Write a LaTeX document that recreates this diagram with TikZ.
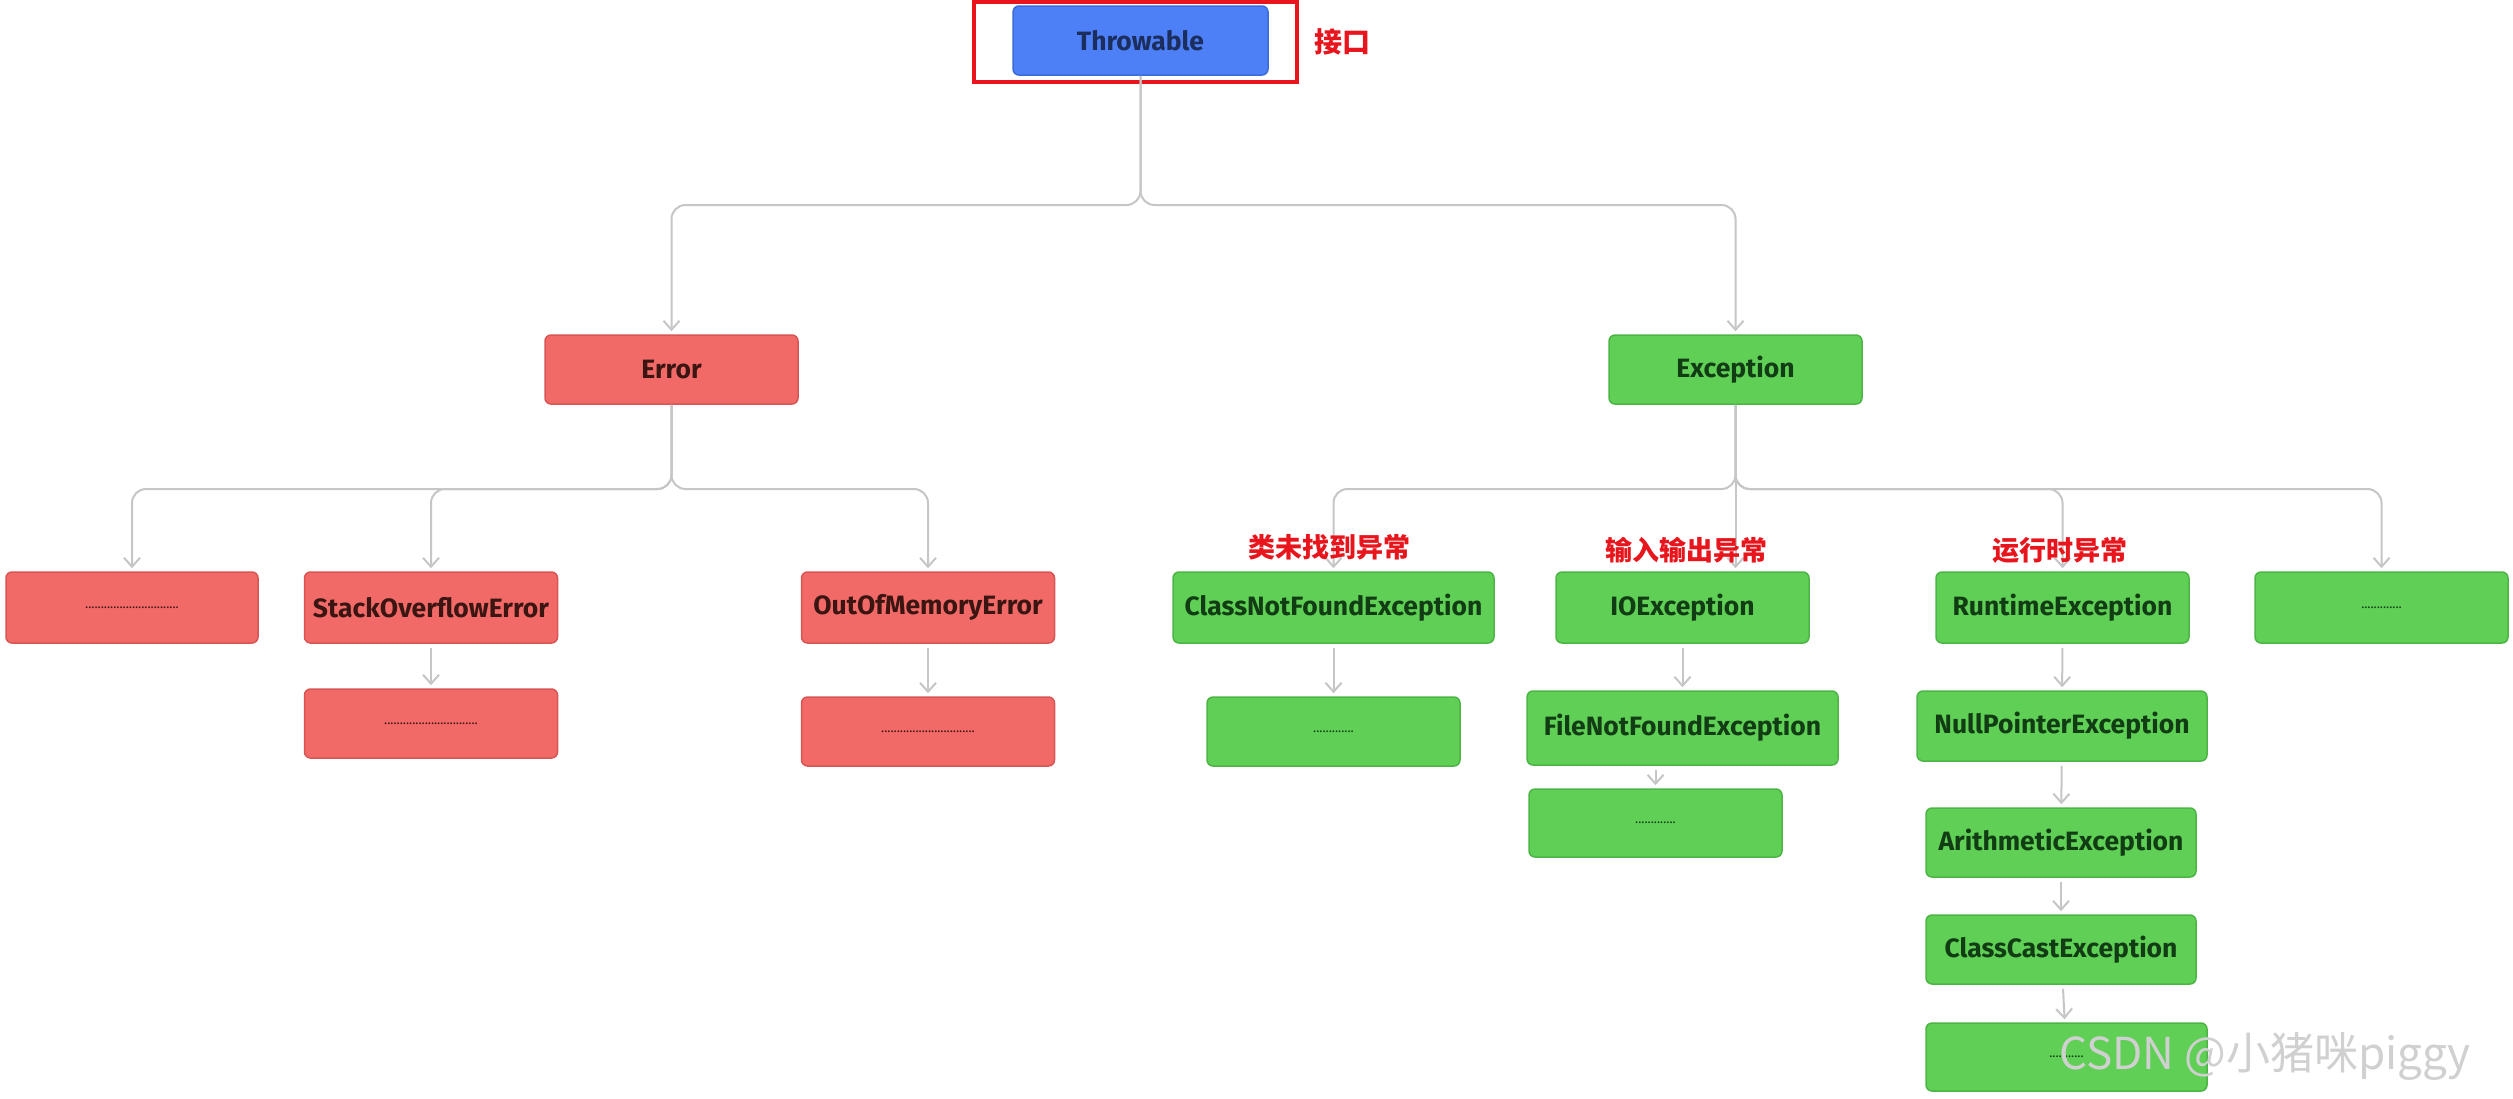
\documentclass[tikz,border=0pt]{standalone}
\usepackage{fontspec}
\setmainfont{Fira Sans}
\newfontfamily\cjk{Noto Sans CJK SC}
\usetikzlibrary{arrows.meta}
\definecolor{bluefill}{RGB}{77,128,246}
\definecolor{bluedraw}{RGB}{58,107,216}
\definecolor{bluetext}{RGB}{28,46,94}
\definecolor{redfill}{RGB}{242,106,103}
\definecolor{reddraw}{RGB}{217,85,83}
\definecolor{redtext}{RGB}{58,21,18}
\definecolor{greenfill}{RGB}{95,207,86}
\definecolor{greendraw}{RGB}{77,181,69}
\definecolor{greentext}{RGB}{18,61,20}
\definecolor{linegray}{RGB}{198,198,198}
\definecolor{labelred}{RGB}{232,21,29}
\definecolor{wmgray}{RGB}{208,208,208}
\tikzset{
  box/.style={draw, rounded corners=6pt, line width=1.5pt, minimum width=253pt, minimum height=69pt,
    inner sep=0pt, font=\fontsize{26.5}{30}\selectfont\bfseries},
  bluebox/.style={box, fill=bluefill, draw=bluedraw, text=bluetext},
  errbox/.style={box, fill=redfill, draw=reddraw, text=redtext},
  excbox/.style={box, fill=greenfill, draw=greendraw, text=greentext},
  conn/.style={draw=linegray, line width=2pt, rounded corners=14pt, shorten >=3pt,
    -{Straight Barb[length=9pt,width=16pt,line width=2pt]}},
  lbl/.style={font=\cjk\bfseries\fontsize{27}{30}\selectfont, text=labelred}
}
\newcommand{\dotfont}{\fontsize{13}{15}\selectfont\mdseries}
\begin{document}
\begin{tikzpicture}[x=1pt,y=-1pt]
\useasboundingbox[fill=white] (0,0) rectangle (2513,1098);
% nodes
\node[bluebox, minimum width=255pt] (throw) at (1140.5,40.5) {Throwable};
\node[draw=labelred, line width=4pt, minimum width=323pt, minimum height=80pt, inner sep=0pt] (hl) at (1135.5,42) {};
\node[lbl, font=\cjk\bfseries\fontsize{28}{30}\selectfont] (jk) at (1342,42) {接口};

\node[errbox] (err) at (671.5,369.5) {Error};
\node[excbox] (exc) at (1735.5,369.5) {Exception};

\node[errbox, minimum width=252pt, minimum height=71pt] (e1) at (132,607.5) {\dotfont ..............................};
\node[errbox, minimum height=71pt] (so) at (431,607.5) {StackOverflowError};
\node[errbox, minimum height=71pt] (oom) at (928,607.5) {OutOfMemoryError};
\node[excbox, minimum width=321pt, minimum height=71pt] (cnf) at (1333.5,607.5) {ClassNotFoundException};
\node[excbox, minimum height=71pt] (io) at (1682.5,607.5) {IOException};
\node[excbox, minimum height=71pt] (rt) at (2062.5,607.5) {RuntimeException};
\node[excbox, minimum height=71pt] (e2) at (2381.5,607.5) {\dotfont .............};

\node[errbox] (soc) at (431,723.5) {\dotfont ..............................};
\node[errbox] (oomc) at (928,731.5) {\dotfont ..............................};
\node[excbox] (cnfc) at (1333.5,731.5) {\dotfont .............};
\node[excbox, minimum width=311pt, minimum height=74pt] (fnf) at (1682.5,728) {FileNotFoundException};
\node[excbox, minimum width=290pt, minimum height=70pt] (np) at (2062,726) {NullPointerException};
\node[excbox, minimum height=68pt] (fnfc) at (1655.5,823) {\dotfont .............};
\node[excbox, minimum width=270pt] (ar) at (2061,842.5) {ArithmeticException};
\node[excbox, minimum width=270pt] (cc) at (2061,949.5) {ClassCastException};
\node[excbox, minimum width=281pt, minimum height=68pt] (last) at (2066.5,1057) {\dotfont ...........};

% connectors
\draw[conn] (throw.south) -- (1140.5,205) -| (err.north);
\draw[conn] (throw.south) -- (1140.5,205) -| (exc.north);

\draw[conn] (err.south) -- (671.5,489) -| (e1.north);
\draw[conn] (err.south) -- (671.5,489) -| (so.north);
\draw[conn] (err.south) -- (671.5,489) -| (oom.north);

\draw[conn] (exc.south) -- (1735.5,489) -| (cnf.north);
\draw[conn] (exc.south) -- (exc.south |- io.north);
\draw[conn] (exc.south) -- (1735.5,489) -| (rt.north);
\draw[conn] (exc.south) -- (1735.5,489) -| (e2.north);

\draw[conn, shorten <=4pt] (so) -- (soc);
\draw[conn, shorten <=4pt] (oom) -- (oomc);
\draw[conn, shorten <=4pt] (cnf) -- (cnfc);
\draw[conn, shorten <=4pt] (io) -- (fnf);
\draw[conn, shorten <=4pt] (fnfc.north |- fnf.south) -- (fnfc.north);
\draw[conn, shorten <=4pt] (rt) -- (np);
\draw[conn, shorten <=4pt] (np) -- (ar);
\draw[conn, shorten <=4pt] (ar) -- (cc);
\draw[conn, shorten <=4pt] (cc) -- (last);

% labels
\node[lbl] (l1) at (1329,547) {类未找到异常};
\node[lbl] (l2) at (1686,550) {输入输出异常};
\node[lbl] (l3) at (2060,550) {运行时异常};

% watermark
\node[font=\cjk\fontsize{44}{48}\selectfont, text=wmgray] (wm) at (2265,1057) {CSDN @小猪咪piggy};
\end{tikzpicture}
\end{document}
